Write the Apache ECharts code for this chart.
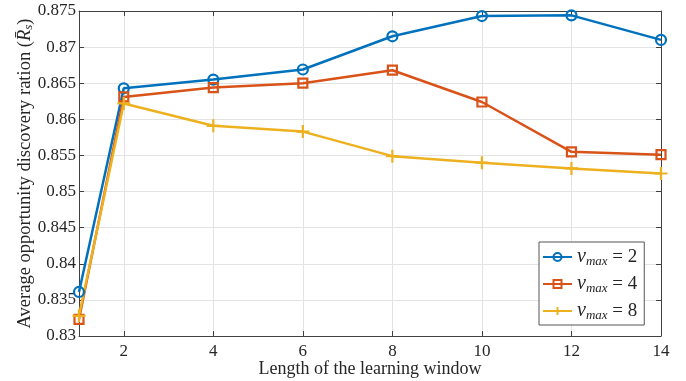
<!DOCTYPE html>
<html>
<head>
<meta charset="utf-8">
<script src="https://cdn.jsdelivr.net/npm/echarts@6/dist/echarts.min.js"></script>
<style>
  html, body { margin: 0; padding: 0; background: #fff; }
  #chart { width: 686px; height: 381px; }
</style>
</head>
<body>
<div id="chart"></div>
<script>
// Window lengths on the x axis
const windowLengths = [1, 2, 4, 6, 8, 10, 12, 14];
const xTicks = [2, 4, 6, 8, 10, 12, 14];

// Average opportunity discovery ratio per maximum speed
const seriesNames = ['2', '4', '8'];
const ratioV2 = [0.8361, 0.8643, 0.8655, 0.8669, 0.8715, 0.8743, 0.8744, 0.8710];
const ratioV4 = [0.8323, 0.8631, 0.8644, 0.8650, 0.8668, 0.8624, 0.8555, 0.8551];
const ratioV8 = [0.8328, 0.8622, 0.8591, 0.8583, 0.8549, 0.8540, 0.8532, 0.8525];

const yTickLabels = ['0.83', '0.835', '0.84', '0.845', '0.85', '0.855', '0.86', '0.865', '0.87', '0.875'];

const colors = ['#0072BD', '#D95319', '#EDB120'];
const serif = '"Liberation Serif", "DejaVu Serif", serif';
const plusPath = 'path://M5,0 L5,10 M0,5 L10,5';

const pairs = v => windowLengths.map((x, i) => [x, v[i]]);

const chart = echarts.init(document.getElementById('chart'), null, { renderer: 'canvas' });

function makeSeries(name, data, color, symbol, size) {
  return {
    name: name,
    type: 'line',
    data: pairs(data),
    symbol: symbol,
    symbolSize: size,
    showAllSymbol: true,
    lineStyle: { color: color, width: 2.5 },
    itemStyle: { color: 'rgba(255,255,255,0)', borderColor: color, borderWidth: 2.2 },
    emphasis: { disabled: true },
    animation: false,
    z: 3
  };
}

const axisColor = '#404040';
const textColor = '#262626';

chart.setOption({
  animation: false,
  grid: { left: 79, right: 25, top: 11, bottom: 45, containLabel: false, outerBoundsMode: 'none' },
  legend: {
    orient: 'vertical',
    left: 539,
    top: 242,
    width: 105,
    padding: [5, 7, 3, 3],
    itemGap: 6,
    itemWidth: 29,
    itemHeight: 10,
    backgroundColor: '#fff',
    borderColor: '#555',
    borderWidth: 1,
    borderRadius: 0,
    data: seriesNames.map(n => 'v' + n),
    formatter: function (name) {
      return '{v|v}{s|max}{e| = ' + name.slice(1) + '}';
    },
    textStyle: {
      color: textColor,
      rich: {
        v: { fontFamily: serif, fontStyle: 'italic', fontSize: 20, color: textColor },
        s: { fontFamily: serif, fontStyle: 'italic', fontSize: 13, color: textColor, padding: [9, 0, 0, 0] },
        e: { fontFamily: serif, fontSize: 19, color: textColor }
      }
    }
  },
  xAxis: [{
    type: 'value',
    min: 1,
    max: 14,
    position: 'bottom',
    name: 'Length of the learning window',
    nameLocation: 'middle',
    nameGap: 24,
    nameMoveOverlap: false,
    nameTextStyle: { fontFamily: serif, fontSize: 18, color: textColor },
    axisLine: { show: true, onZero: false, lineStyle: { color: axisColor, width: 1 } },
    axisTick: { show: true, inside: true, length: 5, customValues: xTicks, lineStyle: { color: axisColor } },
    axisLabel: { customValues: xTicks, fontFamily: serif, fontSize: 17, color: textColor, margin: 7 },
    splitLine: { show: true, lineStyle: { color: '#e3e3e3', width: 1 } }
  }, {
    type: 'value',
    min: 1,
    max: 14,
    position: 'top',
    axisLine: { show: true, onZero: false, lineStyle: { color: axisColor, width: 1 } },
    axisTick: { show: true, inside: true, length: 5, customValues: xTicks, lineStyle: { color: axisColor } },
    axisLabel: { show: false },
    splitLine: { show: false }
  }],
  yAxis: [{
    type: 'value',
    min: 0.83,
    max: 0.875,
    interval: 0.005,
    position: 'left',
    name: '{n|Average opportunity discovery ration (}{r|R\u0304}{b|s}{n|)}',
    nameLocation: 'middle',
    nameGap: 44,
    nameMoveOverlap: false,
    nameTextStyle: {
      color: textColor,
      rich: {
        n: { fontFamily: serif, fontSize: 18.5, color: textColor },
        r: { fontFamily: serif, fontStyle: 'italic', fontSize: 18.5, color: textColor },
        b: { fontFamily: serif, fontStyle: 'italic', fontSize: 13, color: textColor, padding: [7, 0, 0, 0] }
      }
    },
    axisLine: { show: true, onZero: false, lineStyle: { color: axisColor, width: 1 } },
    axisTick: { show: true, inside: true, length: 5, lineStyle: { color: axisColor } },
    axisLabel: {
      fontFamily: serif, fontSize: 17, color: textColor, margin: 3,
      formatter: (v) => yTickLabels[Math.round((v - 0.83) / 0.005)]
    },
    splitLine: { show: true, lineStyle: { color: '#e3e3e3', width: 1 } }
  }, {
    type: 'value',
    min: 0.83,
    max: 0.875,
    interval: 0.005,
    position: 'right',
    axisLine: { show: true, onZero: false, lineStyle: { color: axisColor, width: 1 } },
    axisTick: { show: true, inside: true, length: 5, lineStyle: { color: axisColor } },
    axisLabel: { show: false },
    splitLine: { show: false }
  }],
  series: [
    makeSeries('v2', ratioV2, colors[0], 'circle', 10),
    makeSeries('v4', ratioV4, colors[1], 'rect', 9),
    makeSeries('v8', ratioV8, colors[2], plusPath, 13)
  ]
});
</script>
</body>
</html>
